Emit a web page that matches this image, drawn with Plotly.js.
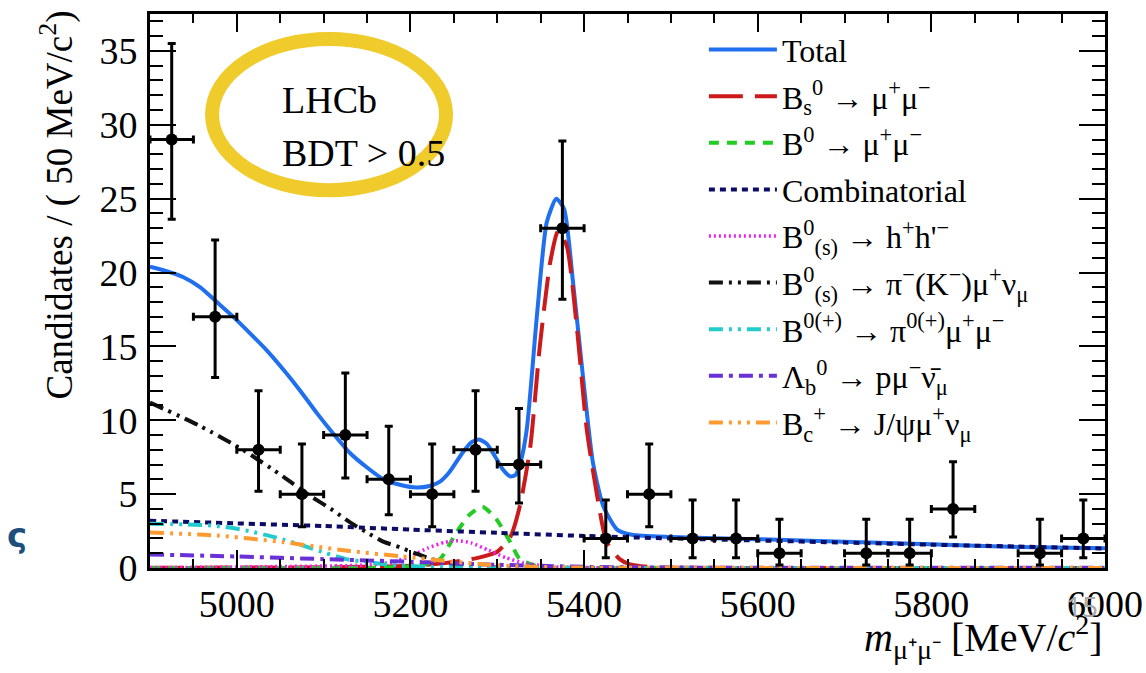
<!DOCTYPE html>
<html>
<head>
<meta charset="utf-8">
<script src="https://cdn.plot.ly/plotly-3.0.1.min.js"></script>
<style>html,body{margin:0;padding:0;background:#fff;}#chart{width:1146px;height:673px;}</style>
</head>
<body>
<div id="chart"></div>
<script>
// ---- data points (bin centres, 50 MeV bins) ----
const binX   = [4925, 4975, 5025, 5075, 5125, 5175, 5225, 5275, 5325, 5375, 5425, 5475, 5525, 5575, 5625, 5725, 5775, 5825, 5925, 5975];
const counts = [29, 17, 8, 5, 9, 6, 5, 8, 7, 23, 2, 5, 2, 2, 1, 1, 1, 4, 1, 2];
const errHi  = [6.5, 5.2, 4.0, 3.4, 4.2, 3.6, 3.4, 4.0, 3.8, 5.9, 2.6, 3.4, 2.6, 2.6, 2.3, 2.3, 2.3, 3.2, 2.3, 2.6];
const errLo  = [5.4, 4.1, 2.8, 2.2, 2.9, 2.4, 2.2, 2.8, 2.6, 4.8, 1.3, 2.2, 1.3, 1.3, 0.8, 0.8, 0.8, 1.9, 0.8, 1.3];
const binHalfWidth = 25;

// ---- fit components ----
const totalX = [4900, 4919, 4938, 4958, 4977, 4996, 5015, 5035, 5054, 5073, 5092, 5111, 5130, 5150, 5169, 5190, 5207, 5222, 5234, 5245, 5260, 5270, 5279, 5288, 5297, 5306, 5315, 5321, 5327, 5334, 5346, 5357, 5368, 5377, 5387, 5399, 5410, 5422, 5438, 5455, 5500, 5600, 5700, 5800, 5900, 6000];
const totalY = [20.4, 20.1, 19.7, 19.0, 18.0, 17.0, 15.9, 14.7, 13.4, 12.0, 10.5, 9.1, 7.8, 6.8, 6.0, 5.6, 5.45, 5.55, 5.85, 6.5, 7.8, 8.5, 8.7, 8.4, 7.6, 6.7, 6.2, 6.3, 7.2, 9.4, 17.3, 23.4, 25.0, 24.3, 19.5, 12.8, 7.2, 4.2, 2.6, 2.25, 2.1, 1.95, 1.78, 1.6, 1.42, 1.33];

const bsX = [4900, 5100, 5200, 5240, 5260, 5280, 5300, 5315, 5326, 5338, 5349, 5361, 5370, 5380, 5392, 5403, 5415, 5426, 5441, 5453, 5480, 5550, 6000];
const bsY = [0.02, 0.05, 0.15, 0.33, 0.5, 0.72, 1.1, 2.1, 4.2, 8.2, 15.0, 20.7, 22.8, 21.8, 16.1, 9.4, 4.9, 1.75, 0.6, 0.25, 0.05, 0.01, 0];

const bdX = [4900, 5150, 5200, 5220, 5234, 5253, 5268, 5283, 5299, 5315, 5326, 5345, 5380, 5450, 6000];
const bdY = [0, 0.02, 0.1, 0.3, 0.6, 2.4, 3.6, 4.15, 3.3, 1.75, 0.6, 0.15, 0.02, 0.01, 0];

const combX = [4900, 5000, 5100, 5200, 5300, 5400, 5500, 5600, 5700, 5800, 5900, 6000];
const combY = [3.2, 3.02, 2.84, 2.6, 2.38, 2.17, 2.0, 1.86, 1.72, 1.58, 1.45, 1.32];

const hhX = [4900, 5050, 5150, 5180, 5200, 5220, 5240, 5255, 5270, 5290, 5310, 5330, 5360, 5400, 6000];
const hhY = [0.02, 0.1, 0.2, 0.4, 0.8, 1.35, 1.75, 1.85, 1.7, 1.2, 0.7, 0.35, 0.1, 0.03, 0];

const pimunuX = [4900, 4958, 5007, 5053, 5084, 5111, 5130, 5150, 5168, 5188, 5205, 5225, 5250, 5280, 5320, 6000];
const pimunuY = [11.2, 9.6, 8.0, 6.2, 4.9, 3.9, 3.1, 2.4, 1.8, 1.4, 1.0, 0.6, 0.25, 0.08, 0.02, 0];

const pimumuX = [4900, 4940, 4977, 5010, 5046, 5080, 5103, 5126, 5150, 5180, 5220, 5300, 6000];
const pimumuY = [3.0, 2.95, 2.85, 2.55, 2.05, 1.45, 1.0, 0.6, 0.4, 0.2, 0.08, 0.02, 0];

const lbX = [4900, 5000, 5100, 5200, 5300, 5400, 5500, 6000];
const lbY = [0.92, 0.78, 0.6, 0.42, 0.22, 0.08, 0.03, 0.01];

const bcX = [4900, 4977, 5053, 5130, 5188, 5245, 5290, 5330, 5400, 6000];
const bcY = [2.4, 2.2, 1.75, 1.15, 0.8, 0.45, 0.22, 0.1, 0.03, 0];

const legendNames = [
  'Total',
  'B<sub>s</sub><sup>0</sup> → μ<sup>+</sup>μ<sup>−</sup>',
  'B<sup>0</sup> → μ<sup>+</sup>μ<sup>−</sup>',
  'Combinatorial',
  'B<sup>0</sup><sub>(s)</sub> → h<sup>+</sup>h\'<sup>−</sup>',
  'B<sup>0</sup><sub>(s)</sub> → π<sup>−</sup>(K<sup>−</sup>)μ<sup>+</sup>ν<sub>μ</sub>',
  'B<sup>0(+)</sup> → π<sup>0(+)</sup>μ<sup>+</sup>μ<sup>−</sup>',
  'Λ<sub>b</sub><sup>0</sup> → pμ<sup>−</sup>ν̄<sub>μ</sub>',
  'B<sub>c</sub><sup>+</sup> → J/ψμ<sup>+</sup>ν<sub>μ</sub>'
];

const SERIF = 'Liberation Serif';

function curve(x, y, i, color, dash, width) {
  return {
    x: x, y: y, type: 'scatter', mode: 'lines', name: legendNames[i],
    legendgroup: 'g' + i,
    line: {color: color, dash: dash, width: width, shape: 'spline', smoothing: 0.6},
    hoverinfo: 'skip'
  };
}

const traces = [
  curve(totalX, totalY, 0, '#1f6fee', 'solid', 4),
  curve(bsX, bsY, 1, '#cc1a1a', '34px,12px', 4),
  curve(bdX, bdY, 2, '#22cc22', '10px,8px', 4),
  curve(combX, combY, 3, '#0c0c66', '6px,5px', 4),
  curve(hhX, hhY, 4, '#ee22ee', '2px,3px', 3.5),
  curve(pimunuX, pimunuY, 5, '#111111', '14px,6px,3px,6px,3px,6px', 4),
  curve(pimumuX, pimumuY, 6, '#22cccc', '14px,6px,3px,6px,3px,6px', 4),
  curve(lbX, lbY, 7, '#6a30d8', '14px,6px,4px,6px', 4),
  curve(bcX, bcY, 8, '#ff9a30', '14px,6px,3px,6px,3px,6px,3px,6px', 4),
  {
    x: binX, y: counts, type: 'scatter', mode: 'markers', showlegend: false,
    marker: {color: 'black', size: 12, symbol: 'circle'},
    error_y: {type: 'data', symmetric: false, array: errHi, arrayminus: errLo, color: 'black', thickness: 3, width: 4},
    error_x: {type: 'constant', value: binHalfWidth, color: 'black', thickness: 3, width: 4}
  }
];

const layout = {
  width: 1146, height: 673,
  margin: {l: 150, r: 41, t: 14, b: 105},
  paper_bgcolor: '#ffffff', plot_bgcolor: '#ffffff',
  font: {family: SERIF, color: 'black'},
  showlegend: true,
  legend: {
    x: 0.580, y: 0.985, xanchor: 'left', yanchor: 'top',
    bgcolor: 'rgba(0,0,0,0)', borderwidth: 0,
    font: {family: SERIF, size: 32, color: 'black'},
    itemwidth: 68, tracegroupgap: 2, traceorder: 'grouped'
  },
  xaxis: {
    range: [4900, 6000], showgrid: false, zeroline: false,
    showline: true, linecolor: 'black', linewidth: 3, mirror: 'ticks',
    ticks: 'inside', ticklen: 18, tickwidth: 2, tickcolor: 'black',
    dtick: 200, tick0: 5000,
    minor: {dtick: 50, ticks: 'inside', ticklen: 9, tickwidth: 2, tickcolor: 'black', showgrid: false},
    tickfont: {family: SERIF, size: 38, color: 'black'},
    ticklabelstandoff: 0
  },
  yaxis: {
    range: [0, 37.5], showgrid: false, zeroline: false,
    showline: true, linecolor: 'black', linewidth: 3, mirror: 'ticks',
    ticks: 'inside', ticklen: 26, tickwidth: 2, tickcolor: 'black',
    dtick: 5, tick0: 0,
    minor: {dtick: 1, ticks: 'inside', ticklen: 13, tickwidth: 2, tickcolor: 'black', showgrid: false},
    tickfont: {family: SERIF, size: 38, color: 'black'},
    ticklabelstandoff: 2
  },
  shapes: [
    {type: 'circle', xref: 'paper', yref: 'paper', x0: 0.065, x1: 0.310, y0: 0.682, y1: 0.955,
     line: {color: '#efcb2b', width: 14}, layer: 'above'}
  ],
  annotations: [
    {text: 'LHCb', xref: 'paper', yref: 'paper', x: 0.136, y: 0.845, xanchor: 'left', yanchor: 'middle',
     showarrow: false, font: {family: SERIF, size: 38, color: 'black'}},
    {text: 'BDT > 0.5', xref: 'paper', yref: 'paper', x: 0.136, y: 0.749, xanchor: 'left', yanchor: 'middle',
     showarrow: false, font: {family: SERIF, size: 38, color: 'black'}},
    {text: 'Candidates / ( 50 MeV/c<sup>2</sup>)', xref: 'paper', yref: 'paper', x: -0.097, y: 0.655,
     xanchor: 'center', yanchor: 'middle', textangle: -90, showarrow: false,
     font: {family: SERIF, size: 37, color: 'black'}},
    {text: '<i>m</i><sub>μ⁺μ⁻</sub> [MeV/<i>c</i><sup>2</sup>]', xref: 'paper', yref: 'paper', x: 1.0, y: -0.125,
     xanchor: 'right', yanchor: 'middle', showarrow: false,
     font: {family: SERIF, size: 40, color: 'black'}},
    {text: '15', xref: 'paper', yref: 'paper', x: 0.976, y: -0.069, xanchor: 'center', yanchor: 'middle',
     showarrow: false, font: {family: 'Open Sans', size: 28, color: '#a8a8a8'}},
    {text: 'ς', xref: 'paper', yref: 'paper', x: -0.139, y: 0.06, xanchor: 'center', yanchor: 'middle',
     showarrow: false, font: {family: 'DejaVu Sans', size: 34, color: '#1e4f7c', weight: 'bold'}}
  ]
};

Plotly.newPlot('chart', traces, layout, {displayModeBar: false, staticPlot: true});
</script>
</body>
</html>
